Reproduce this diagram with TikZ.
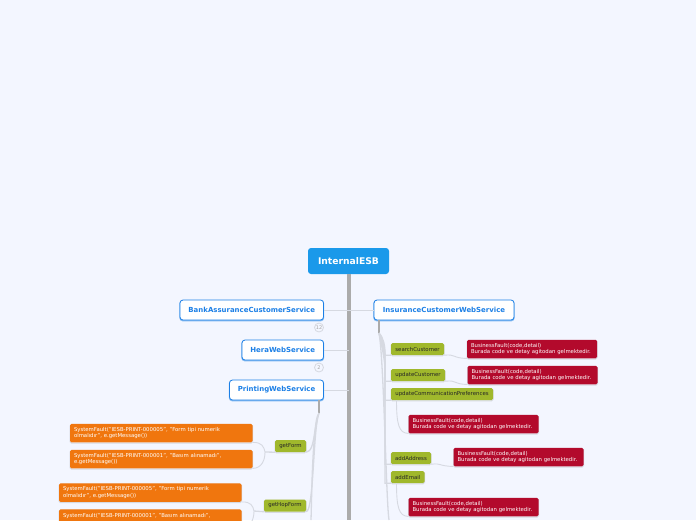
\documentclass[tikz,border=0pt]{standalone}
\usepackage{fontspec}
\setmainfont{DejaVu Sans}
\definecolor{pagebg}{HTML}{F3F6FF}
\definecolor{rootblue}{HTML}{1A99EA}
\definecolor{serviceblue}{HTML}{1B7FE6}
\definecolor{methodgreen}{HTML}{A0B82C}
\definecolor{faultorange}{HTML}{F0760E}
\definecolor{faultred}{HTML}{B30A2C}
\definecolor{linkgray}{HTML}{D6D9E1}
\definecolor{trunkgray}{HTML}{ABABAB}

\begin{document}
\begin{tikzpicture}[
  x=1pt, y=-1pt,
  every node/.style={align=center, inner sep=0pt},
  shadowed/.style={preaction={draw=linkgray, line width=1pt, transform canvas={yshift=-0.8pt}}},
  root/.style={fill=rootblue, rounded corners=3pt, text=white, font=\fontsize{9.2}{11}\selectfont\bfseries, minimum width=81pt, minimum height=26pt},
  service/.style={draw=serviceblue, fill=white, line width=0.8pt, rounded corners=3pt, text=serviceblue, font=\fontsize{6.95}{9}\selectfont\bfseries, minimum height=20pt, preaction={draw=serviceblue!55, line width=1.4pt, transform canvas={yshift=-0.7pt}}},
  method/.style={shadowed, fill=methodgreen, rounded corners=1.5pt, text=black!85, font=\fontsize{5.4}{6.5}\selectfont, minimum height=12pt},
  fault/.style={shadowed, rounded corners=1.5pt, text=white, font=\fontsize{5.35}{6.6}\selectfont, align=left, text width=122pt, inner xsep=4pt, minimum height=18.5pt},
  orangefault/.style={fault, fill=faultorange, text width=174.5pt},
  redfault/.style={fault, fill=faultred},
  counter/.style={circle, draw=linkgray, fill=pagebg, line width=0.8pt, text=black!35, font=\fontsize{5}{5}\selectfont, minimum size=9pt},
  link/.style={draw=linkgray, line width=0.9pt},
  bundle/.style={draw=linkgray, line width=1.3pt},
  trunk/.style={draw=trunkgray, line width=3.5pt},
  drop/.style={draw=trunkgray, line width=2pt},
]
\useasboundingbox (0,0) rectangle (696,520);
\clip (0,0) rectangle (696,520);
\fill[pagebg] (0,0) rectangle (696,520);
% main nodes
\node[root] (internal) at (348.5,261) {InternalESB};
\coordinate (trunkend) at (349,520);
\node[service, minimum width=143.5pt] (bank) at (251.75,310) {BankAssuranceCustomerService};
\node[service, minimum width=81.5pt] (hera) at (282.75,350) {HeraWebService};
\node[service, minimum width=94pt] (printing) at (276.5,390) {PrintingWebService};
\node[service, minimum width=140pt] (insurance) at (444,310) {InsuranceCustomerWebService};
\node[counter] (bankcount) at (319,327.5) {12};
\node[counter] (heracount) at (319,367.5) {2};
% printing side
\node[method, minimum width=31pt] (getform) at (290.5,446) {getForm};
\node[method, minimum width=42pt] (gethop) at (285,505.5) {getHopForm};
\node[orangefault] (formone) at (161.25,433) {SystemFault("IESB-PRINT-000005", "Form tipi numerik\\olmalıdır", e.getMessage())};
\node[orangefault] (formtwo) at (161.25,459) {SystemFault("IESB-PRINT-000001", "Basım alınamadı",\\e.getMessage())};
\node[orangefault] (hopone) at (150.25,492.5) {SystemFault("IESB-PRINT-000005", "Form tipi numerik\\olmalıdır", e.getMessage())};
\node[orangefault] (hoptwo) at (150.25,518.5) {SystemFault("IESB-PRINT-000001", "Basım alınamadı",\\\mbox{}};
% insurance side
\node[method, minimum width=53pt] (search) at (417.5,349) {searchCustomer};
\node[method, minimum width=54pt] (update) at (418,375) {updateCustomer};
\node[method, minimum width=102pt] (prefs) at (442,394) {updateCommunicationPreferences};
\node[method, minimum width=40pt] (address) at (411,458) {addAddress};
\node[method, minimum width=33.5pt] (email) at (407.75,477) {addEmail};
\node[redfault] (searchfault) at (532,349) {BusinessFault(code,detail)\\Burada code ve detay agitodan gelmektedir.};
\node[redfault] (updatefault) at (532.5,375) {BusinessFault(code,detail)\\Burada code ve detay agitodan gelmektedir.};
\node[redfault] (prefsfault) at (473.5,424) {BusinessFault(code,detail)\\Burada code ve detay agitodan gelmektedir.};
\node[redfault] (addressfault) at (518.5,457) {BusinessFault(code,detail)\\Burada code ve detay agitodan gelmektedir.};
\node[redfault] (emailfault) at (473.5,507) {BusinessFault(code,detail)\\Burada code ve detay agitodan gelmektedir.};
% branch points
\coordinate (printdrop) at (319,413);
\coordinate (insdrop) at (379,333);
\coordinate (leftend) at (311,520);
\coordinate (rightend) at (389,520);
\coordinate (formjoin) at (265,452);
\coordinate (hopjoin) at (254,511);
\coordinate (prefsdrop) at (396.5,400);
\coordinate (emaildrop) at (396.5,483);
% connectors
\draw[trunk] (internal.south -| trunkend) -- (trunkend);
\foreach \svc in {bank, hera, printing}
  \draw[link] (\svc.east) -- (\svc.east -| trunkend);
\draw[link] (insurance.west) -- (insurance.west -| trunkend);
\draw[drop] (printing.south -| printdrop) -- (printdrop);
\draw[drop] (insurance.south -| insdrop) -- (insdrop);
\draw[bundle] (printdrop) .. controls (314,418) and (316,452) .. (getform.south east);
\draw[bundle] (printdrop) .. controls (313,428) and (314,511) .. (gethop.south east);
\draw[bundle] (printdrop) .. controls (312,432) and (312,490) .. (leftend);
\draw[bundle] (getform.south west) -- (formjoin);
\draw[link] (formjoin) .. controls (264,447) and (262,442) .. (formone.south east);
\draw[link] (formjoin) .. controls (265,460) and (262,468) .. (formtwo.south east);
\draw[bundle] (gethop.south west) -- (hopjoin);
\draw[link] (hopjoin) .. controls (253,506) and (251,501.5) .. (hopone.south east);
\draw[link] (hopjoin) .. controls (254,519) and (251,527) .. (hoptwo.south east);
\foreach \mth/\bend in {search/338, update/342, prefs/345, address/350, email/355}
  \draw[bundle] (insdrop) .. controls (384,\bend) and (385,{\bend+10}) .. (385,{\bend+14}) |- (\mth.south west);
\draw[bundle] (insdrop) .. controls (384,360) and (386,500) .. (rightend);
\draw[link] (search.south east) .. controls (456,354) and (452,358) .. (searchfault.south west);
\draw[link] (update.south east) .. controls (458,380) and (452,384) .. (updatefault.south west);
\draw[link] (address.south east) .. controls (442,463) and (438,466) .. (addressfault.south west);
\draw[link] (prefsdrop) .. controls (396.5,425) and (399,433) .. (prefsfault.south west);
\draw[link] (emaildrop) .. controls (396.5,508) and (399,516) .. (emailfault.south west);
\end{tikzpicture}
\end{document}
